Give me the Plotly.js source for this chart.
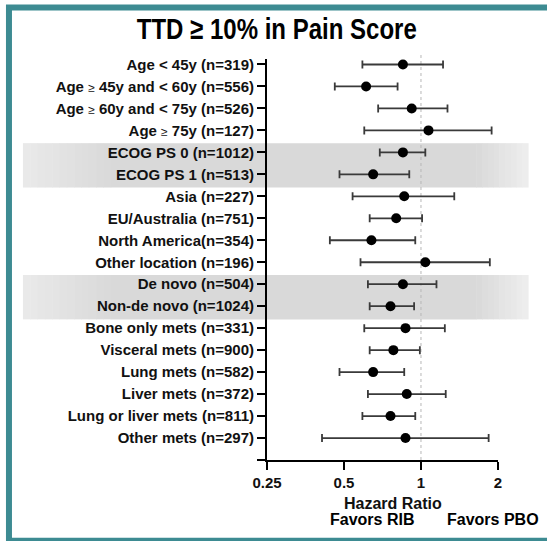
<!DOCTYPE html>
<html>
<head>
<meta charset="utf-8">
<script src="https://cdn.plot.ly/plotly-3.0.1.min.js"></script>
<style>
html,body{margin:0;padding:0;background:#fff;}
#chart{width:547px;height:541px;}
</style>
</head>
<body>
<div id="chart"></div>
<script>
// ---- data ----
var GE = '<span style="font-size:12px;font-weight:normal">≥</span>';
var labels = [
  'Age < 45y (n=319)',
  'Age ' + GE + ' 45y and < 60y (n=556)',
  'Age ' + GE + ' 60y and < 75y (n=526)',
  'Age ' + GE + ' 75y (n=127)',
  'ECOG PS 0 (n=1012)',
  'ECOG PS 1 (n=513)',
  'Asia (n=227)',
  'EU/Australia (n=751)',
  'North America(n=354)',
  'Other location (n=196)',
  'De novo (n=504)',
  'Non-de novo (n=1024)',
  'Bone only mets (n=331)',
  'Visceral mets (n=900)',
  'Lung mets (n=582)',
  'Liver mets (n=372)',
  'Lung or liver mets (n=811)',
  'Other mets (n=297)'
];
var hr = [0.85, 0.61, 0.92, 1.07, 0.85, 0.65, 0.86, 0.80, 0.64, 1.04, 0.85, 0.76, 0.87, 0.78, 0.65, 0.88, 0.76, 0.87];
var lo = [0.59, 0.46, 0.68, 0.60, 0.69, 0.48, 0.54, 0.63, 0.44, 0.58, 0.62, 0.63, 0.60, 0.63, 0.48, 0.62, 0.59, 0.41];
var hi = [1.22, 0.81, 1.27, 1.89, 1.04, 0.90, 1.35, 1.01, 0.95, 1.86, 1.15, 0.94, 1.24, 0.99, 0.86, 1.25, 0.95, 1.84];
var xTickVals = [0.25, 0.5, 1, 2];
var xTickText = ['0.25', '0.5', '1', '2'];
var shadedGroups = [[5, 6], [11, 12]]; // row numbers with grey band

// ---- build ----
var rows = labels.map(function (_, i) { return i + 1; });
var errPlus = hi.map(function (h, i) { return h - hr[i]; });
var errMinus = lo.map(function (l, i) { return hr[i] - l; });

var trace = {
  type: 'scatter',
  mode: 'markers',
  x: hr,
  y: rows,
  marker: { color: '#000', size: 10 },
  error_x: {
    type: 'data', symmetric: false,
    array: errPlus, arrayminus: errMinus,
    color: '#3a3a3a', thickness: 1.8, width: 4
  },
  hoverinfo: 'skip',
  cliponaxis: false
};

var TEAL = '#3d8b92';
var FONT = 'Liberation Sans, Arial, sans-serif';

// plot-area geometry helpers (paper units) for decoration only
var PL = 266.7, PW = 231.6;
function px2paper(p) { return (p - PL) / PW; }
function grey(v) { v = Math.round(v); return 'rgb(' + v + ',' + v + ',' + v + ')'; }

var shapes = [];
shadedGroups.forEach(function (g) {
  var y0 = g[0] - 0.42, y1 = g[1] + 0.6;
  shapes.push({
    type: 'rect', layer: 'below', xref: 'paper', yref: 'y',
    x0: px2paper(110), x1: px2paper(477), y0: y0, y1: y1,
    fillcolor: grey(217), line: { width: 0 }
  });
  // soft fade at both ends of the band
  var nL = 12, nR = 9, i, a, b;
  for (i = 0; i < nL; i++) {
    a = 22 + (110 - 22) * i / nL; b = 22 + (110 - 22) * (i + 1) / nL;
    shapes.push({ type: 'rect', layer: 'below', xref: 'paper', yref: 'y',
      x0: px2paper(a), x1: px2paper(b + 0.5), y0: y0, y1: y1,
      fillcolor: grey(234 - (234 - 217) * (i + 0.5) / nL), line: { width: 0 } });
  }
  for (i = 0; i < nR; i++) {
    a = 477 + (529 - 477) * i / nR; b = 477 + (529 - 477) * (i + 1) / nR;
    shapes.push({ type: 'rect', layer: 'below', xref: 'paper', yref: 'y',
      x0: px2paper(a - 0.5), x1: px2paper(b), y0: y0, y1: y1,
      fillcolor: grey(217 + (238 - 217) * (i + 0.5) / nR), line: { width: 0 } });
  }
});
shapes.push({
  type: 'line', layer: 'below', xref: 'x', yref: 'paper',
  x0: 1, x1: 1, y0: 0, y1: 1.015,
  line: { color: '#b8b8b8', width: 1, dash: 'dot' }
});
shapes.push({
  type: 'rect', xref: 'paper', yref: 'paper',
  x0: px2paper(8), x1: 1.25, y0: -0.2015, y1: 1.1283,
  line: { color: TEAL, width: 6 }, fillcolor: 'rgba(0,0,0,0)'
});

var layout = {
  width: 547, height: 541,
  margin: { l: 266.7, r: 48.7, t: 58.5, b: 81 },
  paper_bgcolor: '#fff', plot_bgcolor: 'rgba(0,0,0,0)',
  showlegend: false,
  title: {
    text: 'TTD ≥ 10% in Pain Score',
    x: 0.506, xanchor: 'center', y: 0.948, yanchor: 'middle',
    font: { family: FONT, size: 30, color: '#000', weight: 'bold' }
  },
  xaxis: {
    type: 'log',
    range: [Math.log10(0.25) - 0.0004, Math.log10(2) + 0.0004],
    tickvals: xTickVals, ticktext: xTickText,
    ticks: 'outside', ticklen: 8, tickwidth: 2, tickcolor: '#000',
    showline: true, linecolor: '#000', linewidth: 2,
    showgrid: false, zeroline: false,
    tickfont: { family: FONT, size: 15, color: '#111', weight: 'bold' }
  },
  yaxis: {
    range: [19, 0.75],
    tickvals: rows.concat([19]), ticktext: labels.concat(['']),
    ticks: 'outside', ticklen: 8, tickwidth: 2, tickcolor: '#000',
    showline: true, linecolor: '#000', linewidth: 2,
    showgrid: false, zeroline: false,
    tickfont: { family: FONT, size: 15, color: '#111', weight: 'bold' }
  },
  shapes: shapes,
  annotations: [
    { text: 'Hazard Ratio', xref: 'paper', yref: 'paper', x: 0.545, y: -0.1096,
      xanchor: 'center', yanchor: 'middle', showarrow: false,
      font: { family: FONT, size: 16, color: '#111', weight: 'bold' } },
    { text: 'Favors RIB', xref: 'paper', yref: 'paper', x: 0.4547, y: -0.149,
      xanchor: 'center', yanchor: 'middle', showarrow: false,
      font: { family: FONT, size: 16, color: '#000', weight: 'bold' } },
    { text: 'Favors PBO', xref: 'paper', yref: 'paper', x: 0.977, y: -0.149,
      xanchor: 'center', yanchor: 'middle', showarrow: false,
      font: { family: FONT, size: 16, color: '#000', weight: 'bold' } }
  ]
};

Plotly.newPlot('chart', [trace], layout, { displayModeBar: false, staticPlot: true }).then(function (gd) {
  // the reference title uses a narrow bold face
  var t = gd.querySelector('.gtitle');
  if (t) {
    t.setAttribute('textLength', '280');
    t.setAttribute('lengthAdjust', 'spacingAndGlyphs');
  }
});
</script>
</body>
</html>
